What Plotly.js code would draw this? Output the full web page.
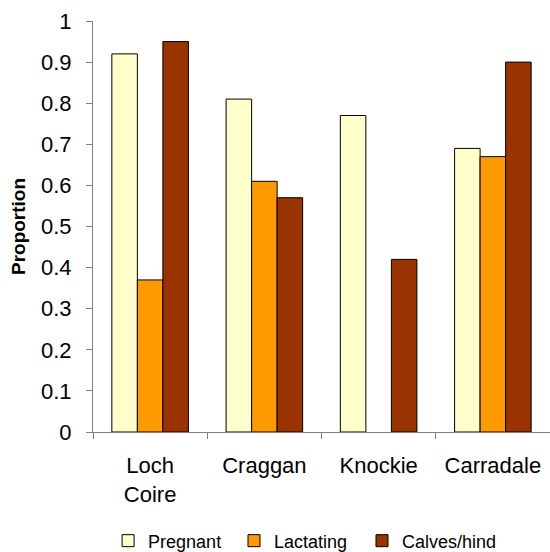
<!DOCTYPE html>
<html>
<head>
<meta charset="utf-8">
<script src="https://cdn.plot.ly/plotly-3.0.1.min.js"></script>
<style>
  html, body { margin: 0; padding: 0; background: #fff; }
  #chart { width: 550px; height: 552px; }
</style>
</head>
<body>
<div id="chart"></div>
<script>
// Study sites (x categories)
const sites = ["Loch<br>Coire", "Craggan", "Knockie", "Carradale"];

// Proportions per site
const pregnant   = [0.92, 0.81, 0.77, 0.69];
const lactating  = [0.37, 0.61, null, 0.67];
const calvesHind = [0.95, 0.57, 0.42, 0.90];

const yTicks = [0, 0.1, 0.2, 0.3, 0.4, 0.5, 0.6, 0.7, 0.8, 0.9, 1];
const yTickText = ["0", "0.1", "0.2", "0.3", "0.4", "0.5", "0.6", "0.7", "0.8", "0.9", "1"];

const outline = { color: "#000000", width: 1 };

const traces = [
  { type: "bar", name: "Pregnant",    x: sites, y: pregnant,   legend: "legend",  marker: { color: "#FFFFCC", line: outline } },
  { type: "bar", name: "Lactating",   x: sites, y: lactating,  legend: "legend2", marker: { color: "#FF9900", line: outline } },
  { type: "bar", name: "Calves/hind", x: sites, y: calvesHind, legend: "legend3", marker: { color: "#993300", line: outline } }
];

// one single-entry legend per series, laid out in a row under the axis
function legendAt(x) {
  return {
    orientation: "h",
    xref: "paper",
    x: x, xanchor: "left",
    yref: "container",
    y: 0.02, yanchor: "middle",
    font: { size: 18 },
    itemwidth: 30
  };
}

const layout = {
  width: 550,
  height: 552,
  paper_bgcolor: "#ffffff",
  plot_bgcolor: "#ffffff",
  margin: { l: 93, r: 0, t: 21, b: 120 },
  font: { family: "Liberation Sans, Arial, sans-serif", color: "#000000" },
  barmode: "group",
  bargap: 0.33,
  bargroupgap: 0,
  showlegend: true,
  legend: legendAt(0.033),
  legend2: legendAt(0.3085),
  legend3: legendAt(0.5886),
  xaxis: {
    type: "category",
    showline: true,
    linecolor: "#808080",
    linewidth: 1,
    ticks: "outside",
    tickson: "boundaries",
    ticklen: 6,
    tickcolor: "#808080",
    tickfont: { size: 22 },
    ticklabelstandoff: 14,
    showgrid: false,
    zeroline: false,
    fixedrange: true
  },
  yaxis: {
    range: [0, 1],
    tickvals: yTicks,
    ticktext: yTickText,
    showline: true,
    linecolor: "#808080",
    linewidth: 1,
    ticks: "outside",
    ticklen: 6,
    tickcolor: "#808080",
    tickfont: { size: 22 },
    ticklabelstandoff: 10,
    showgrid: false,
    zeroline: false,
    title: { text: "<b>Proportion</b>", font: { size: 19 }, standoff: 10 },
    fixedrange: true
  }
};

Plotly.newPlot("chart", traces, layout, { displayModeBar: false, staticPlot: true });
</script>
</body>
</html>
